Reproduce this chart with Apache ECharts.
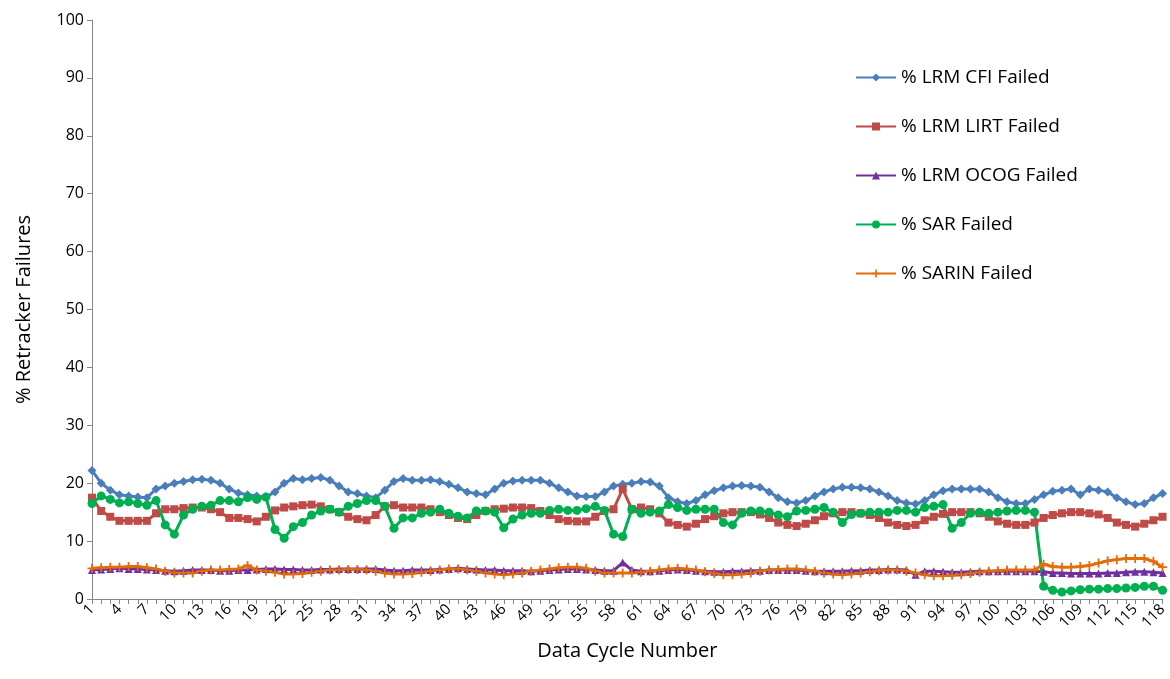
<!DOCTYPE html>
<html>
<head>
<meta charset="utf-8">
<script src="https://cdn.jsdelivr.net/npm/echarts@6/dist/echarts.min.js"></script>
<style>html,body{margin:0;padding:0;background:#fff}#chart{width:1170px;height:679px}</style>
</head>
<body>
<div id="chart"></div>
<script>
var cycles = [];
for (var i = 1; i <= 118; i++) cycles.push(String(i));

var lrmCfi = [22.2,20,18.8,18,17.8,17.6,17.5,19,19.5,20,20.3,20.6,20.7,20.5,20,19,18.3,18,17.8,17.6,
    18.5,20,20.8,20.6,20.8,21,20.5,19.5,18.5,18.2,17.8,17.5,18.8,20.3,20.8,20.5,20.5,20.6,20.3,19.8,
    19.2,18.5,18.2,18,19,20,20.4,20.5,20.5,20.5,20,19.2,18.5,17.8,17.7,17.7,18.5,19.5,19.8,20,
    20.3,20.2,19.5,17.5,16.8,16.5,17,18,18.7,19.2,19.5,19.6,19.5,19.3,18.5,17.5,16.8,16.6,17,17.8,
    18.5,19,19.3,19.3,19.2,19,18.5,17.8,17,16.6,16.4,17,18,18.7,19,19,19,19,18.5,17.5,
    16.8,16.5,16.5,17.2,18,18.6,18.8,19,18,19,18.8,18.5,17.5,16.8,16.3,16.5,17.5,18.2];
var lrmLirt = [17.5,15.2,14.2,13.5,13.5,13.5,13.5,14.8,15.5,15.5,15.7,15.8,15.8,15.5,15,14,14,13.8,13.4,14.2,
    15.3,15.8,16,16.2,16.3,16,15.5,15,14.2,13.8,13.6,14.5,16,16.2,15.8,15.8,15.8,15.5,15,14.5,
    14,13.8,14.5,15.2,15.5,15.6,15.8,15.8,15.7,15.2,14.5,13.8,13.5,13.4,13.4,14.2,15.2,15.5,19,15.5,
    15.8,15.5,14.8,13.2,12.8,12.5,13,13.8,14.3,14.8,15,15,15,14.6,14,13.2,12.8,12.6,13,13.6,
    14.3,14.8,15,15,14.8,14.5,14,13.2,12.8,12.6,12.8,13.6,14.2,14.7,15,15,15,14.8,14.2,13.4,
    13,12.8,12.8,13.2,14,14.5,14.8,15,15,14.8,14.6,14,13.2,12.8,12.5,13,13.6,14.2];
var lrmOcog = [5,5.1,5.2,5.3,5.2,5.2,5.1,5,4.9,4.8,4.9,5,5,5,4.9,4.9,5,5,5.1,5.2,
    5.2,5.1,5.1,5,5,5.1,5.1,5.2,5.2,5.2,5.2,5.2,5,4.9,4.9,5,5,5,5.1,5.2,
    5.3,5.2,5.1,5,5,4.9,4.9,4.9,4.8,4.9,5,5.1,5.2,5.2,5.1,5,4.9,4.9,6.3,5,
    4.8,4.8,4.9,5,5.1,5,4.9,4.8,4.7,4.7,4.8,4.8,4.9,4.9,5,5,5,5,4.9,4.8,
    4.8,4.8,4.8,4.9,4.9,5,5,5.1,5.1,5,4.2,4.8,4.8,4.7,4.6,4.6,4.7,4.8,4.8,4.8,
    4.8,4.8,4.8,4.8,4.7,4.5,4.5,4.4,4.4,4.4,4.4,4.5,4.5,4.6,4.7,4.7,4.6,4.5];
var sar = [16.5,17.8,17.2,16.6,16.8,16.5,16.2,17,12.8,11.2,14.5,15.5,16,16.2,17,17,16.8,17.5,17.2,17.6,
    12,10.5,12.5,13.2,14.5,15.2,15.5,15,16,16.5,17,17,16,12.2,14,14,14.8,15,15.5,14.8,
    14.3,14,15.2,15.2,15,12.3,13.8,14.5,14.8,14.8,15.3,15.5,15.3,15.3,15.6,16,15.3,11.2,10.8,15.5,
    14.8,15,15.2,16.3,15.8,15.3,15.5,15.5,15.5,13.2,12.8,14.8,15.2,15.2,15,14.5,14.2,15.2,15.3,15.5,
    15.8,15,13.2,14.6,14.8,15,15,15,15.3,15.3,15,15.8,16,16.3,12.2,13.2,14.8,15,14.8,15,
    15.2,15.3,15.3,15,2.2,1.5,1.2,1.4,1.6,1.7,1.7,1.8,1.8,1.9,2,2.2,2.2,1.5];
var sarin = [5.3,5.4,5.5,5.5,5.6,5.6,5.4,5.2,4.8,4.5,4.5,4.5,4.8,5,5,5.1,5.2,5.8,5,4.8,
    4.6,4.3,4.3,4.4,4.6,4.8,5,5,5.1,5.1,5,4.8,4.5,4.3,4.3,4.4,4.6,4.8,5,5.2,
    5.2,5,4.8,4.5,4.3,4.2,4.3,4.5,4.8,5,5.2,5.4,5.5,5.5,5.3,4.8,4.5,4.5,4.5,4.5,
    4.6,4.8,5,5.2,5.3,5.2,5,4.7,4.4,4.2,4.2,4.3,4.5,4.8,5,5.1,5.2,5.2,5,4.8,
    4.5,4.3,4.2,4.3,4.5,4.7,4.9,5,5,4.8,4.5,4.2,4,4,4.1,4.2,4.4,4.6,4.8,4.9,
    5,5,5,5,6,5.6,5.5,5.5,5.6,5.8,6.2,6.6,6.8,7,7,7,6.5,5.5];

var plusPath = 'path://M4,0H6V4H10V6H6V10H4V6H0V4H4Z';

var makeSeries = function (name, data, color, symbol, size) {
    return {
        name: name,
        type: 'line',
        data: data,
        symbol: symbol,
        symbolSize: size,
        showAllSymbol: true,
        lineStyle: {color: color, width: 3},
        itemStyle: {color: color},
        emphasis: {disabled: true}
    };
};

var myChart = echarts.init(document.getElementById('chart'));
myChart.setOption({
    animation: false,
    textStyle: {fontFamily: 'Open Sans, Liberation Sans, sans-serif'},
    grid: {left: 92, right: 4, top: 20, bottom: 80},
    legend: {
        orient: 'vertical',
        left: 850,
        top: 63,
        itemGap: 30,
        itemWidth: 40,
        itemHeight: 10,
        textStyle: {fontSize: 19, color: '#000'},
        data: ['% LRM CFI Failed', '% LRM LIRT Failed', '% LRM OCOG Failed', '% SAR Failed', '% SARIN Failed']
    },
    xAxis: {
        type: 'category',
        data: cycles,
        boundaryGap: false,
        name: 'Data Cycle Number',
        nameLocation: 'middle',
        nameGap: 42,
        nameTextStyle: {fontSize: 20, color: '#000'},
        axisLine: {lineStyle: {color: '#868686'}},
        axisTick: {alignWithLabel: true, interval: 0, lineStyle: {color: '#868686'}},
        axisLabel: {interval: 2, rotate: 45, fontSize: 15, color: '#000', margin: 8}
    },
    yAxis: {
        type: 'value',
        min: 0,
        max: 100,
        interval: 10,
        name: '% Retracker Failures',
        nameLocation: 'middle',
        nameGap: 58,
        nameTextStyle: {fontSize: 20, color: '#000'},
        axisLine: {show: true, lineStyle: {color: '#868686'}},
        axisTick: {show: true, lineStyle: {color: '#868686'}},
        splitLine: {show: false},
        axisLabel: {fontSize: 16, color: '#000'}
    },
    series: [
        makeSeries('% LRM CFI Failed', lrmCfi, '#4a7ebb', 'diamond', 9),
        makeSeries('% LRM LIRT Failed', lrmLirt, '#be4b48', 'rect', 8),
        makeSeries('% LRM OCOG Failed', lrmOcog, '#7030a0', 'triangle', 8),
        makeSeries('% SAR Failed', sar, '#00b050', 'circle', 9),
        makeSeries('% SARIN Failed', sarin, '#e46c0a', plusPath, 9)
    ]
});
</script>
</body>
</html>
